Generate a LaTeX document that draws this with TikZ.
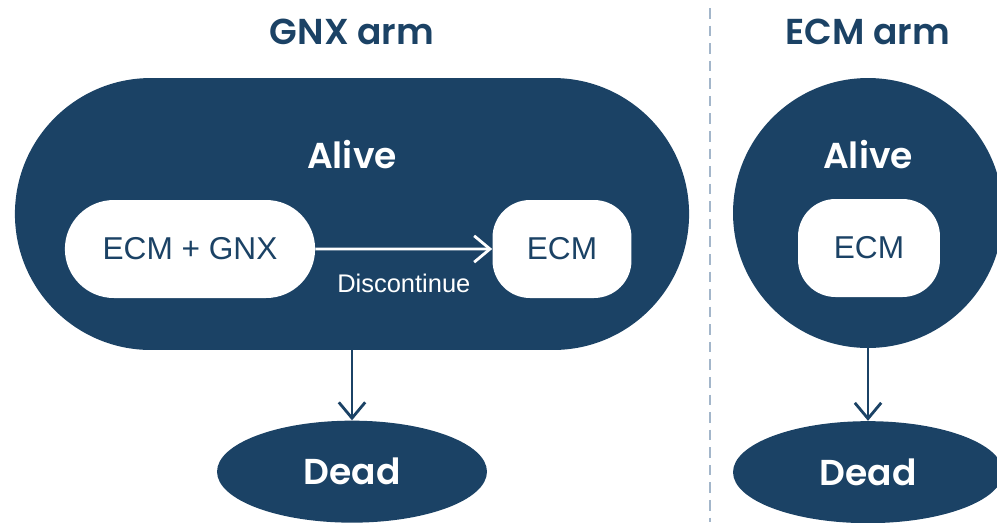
\documentclass[tikz,border=0pt]{standalone}
\usepackage{fontspec}
\setmainfont{Liberation Sans}
\newfontfamily\headfont{Poppins}[BoldFont={Poppins SemiBold}]
\usetikzlibrary{positioning,arrows.meta,shapes.misc,shapes.geometric}
\definecolor{navy}{HTML}{1B4265}
\definecolor{divider}{HTML}{A3B6CA}

\begin{document}
\begin{tikzpicture}[
    x=0.02cm,
    y=-0.02cm,
    head/.style={font=\headfont\bfseries\fontsize{20.5}{24}\selectfont},
    title/.style={head, text=navy},
    state/.style={head, fill=navy, text=white},
    pill/.style={state, rounded rectangle, minimum width=13.72cm, minimum height=5.44cm},
    ring/.style={state, circle, minimum size=5.4cm},
    dead/.style={state, ellipse, minimum width=5.4cm, minimum height=2.04cm},
    drug/.style={
        fill=white,
        text=navy,
        font=\fontsize{18}{21}\selectfont,
        minimum height=1.96cm
    },
    arrow/.style={-{Straight Barb[length=9pt, width=15pt, line width=1.6pt]}, line width=1.6pt}
]
\useasboundingbox (0,0) rectangle (997,522);

% ============================================================
% GNX ARM
% ============================================================
\node[pill] (gnxalive) at (352,214) {};
\node[title] (gnxtitle) at (352,32) {GNX arm};
\node[state, fill=none] (gnxalivelbl) at (352,155) {Alive};
\node[drug, rounded rectangle, minimum width=5.24cm] (combo) at (190,249) {ECM + GNX};
\node[drug, rounded corners=0.75cm, minimum width=2.78cm] (gnxecm) at (562,249) {ECM};
\node[dead, below=1.4cm of gnxalive] (gnxdead) {Dead};

\draw[arrow, white] (combo) -- node[below=10pt, font=\fontsize{14.5}{17}\selectfont] {Discontinue} (gnxecm);
\draw[arrow, navy] (gnxalive.south) -- (gnxdead.north);

% ============================================================
% DIVIDER
% ============================================================
\coordinate (divtop) at (710,8);
\coordinate (divbot) at (710,522);
\draw[divider, line width=1.1pt, dash pattern=on 6pt off 4pt] (divtop) -- (divbot);

% ============================================================
% ECM ARM
% ============================================================
\node[ring] (ecmalive) at (868,213) {};
\node[title] (ecmtitle) at (868,32) {ECM arm};
\node[state, fill=none] (ecmalivelbl) at (868,155) {Alive};
\node[drug, rounded corners=0.75cm, minimum width=2.84cm] (ecmecm) at (869,248) {ECM};
\node[dead, below=1.45cm of ecmalive] (ecmdead) {Dead};

\draw[arrow, navy] (ecmalive.south) -- (ecmdead.north);

\end{tikzpicture}
\end{document}
